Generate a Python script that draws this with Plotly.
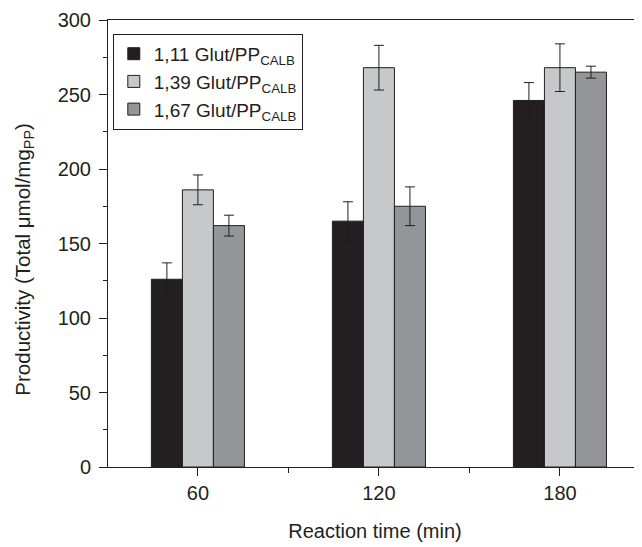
import plotly.graph_objects as go

times = [60, 120, 180]
series_names = ["1,11 Glut/PP<sub>CALB</sub>", "1,39 Glut/PP<sub>CALB</sub>", "1,67 Glut/PP<sub>CALB</sub>"]
vals_111 = [126, 165, 246]
err_111 = [11, 13, 12]
vals_139 = [186, 268, 268]
err_139 = [10, 15, 16]
vals_167 = [162, 175, 265]
err_167 = [7, 13, 4]
y_title = "Productivity (Total μmol/mg<sub>PP</sub>)"
x_title = "Reaction time (min)"

colors = ["#231f20", "#c7c8ca", "#939598"]
FONT = "Liberation Sans, Arial, sans-serif"

fig = go.Figure()
for name, v, e, c in zip(series_names, [vals_111, vals_139, vals_167], [err_111, err_139, err_167], colors):
    fig.add_trace(go.Bar(
        x=times, y=v, name=name,
        marker=dict(color=c, line=dict(color="#231f20", width=1)),
        error_y=dict(type="data", array=e, visible=True, color="#231f20", thickness=1, width=5),
    ))

fig.update_layout(
    width=634, height=539,
    margin=dict(l=100, r=0, t=12, b=80),
    paper_bgcolor="white", plot_bgcolor="white",
    barmode="group", bargap=0.486, bargroupgap=0,
    font=dict(family=FONT, size=20, color="#231f20"),
    legend=dict(
        x=0.009, y=0.969, xanchor="left", yanchor="top",
        bgcolor="white", bordercolor="#231f20", borderwidth=1,
        font=dict(size=19), tracegroupgap=0,
    ),
    xaxis=dict(
        range=[30.2, 207.2], tickvals=times, ticktext=[str(t) for t in times],
        ticks="outside", ticklen=8, tickwidth=1, tickcolor="#231f20",
        showline=True, linecolor="#231f20", linewidth=1, mirror=True,
        showgrid=False, zeroline=False,
        minor=dict(tickvals=[90, 150], ticks="outside", ticklen=5, tickcolor="#231f20"),
        title=dict(text=x_title, standoff=20, font=dict(size=20)),
    ),
    yaxis=dict(
        range=[0, 300], tickvals=[0, 50, 100, 150, 200, 250, 300],
        ticks="outside", ticklen=8, tickwidth=1, tickcolor="#231f20",
        ticklabelstandoff=4,
        showline=True, linecolor="#231f20", linewidth=1, mirror=False,
        showgrid=False, zeroline=False,
        minor=dict(dtick=25, ticks="outside", ticklen=4, tickcolor="#231f20"),
    ),
    annotations=[dict(
        text=y_title, textangle=-90, showarrow=False,
        xref="paper", yref="paper", x=-0.158, y=0.463,
        xanchor="center", yanchor="middle",
        font=dict(family=FONT, size=20.5, color="#231f20"),
    )],
)

fig.write_html("out.html")
